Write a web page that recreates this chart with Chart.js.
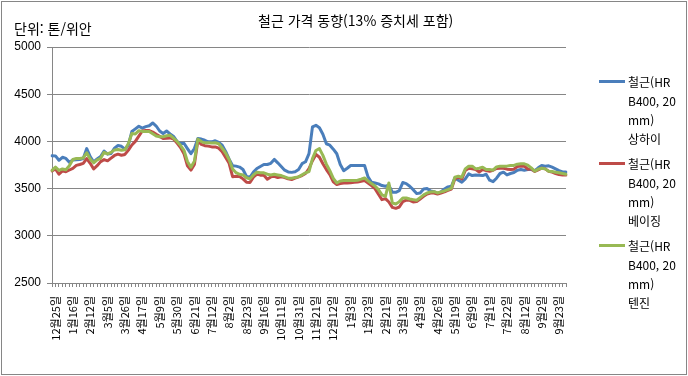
<!DOCTYPE html>
<html lang="ko">
<head>
  <meta charset="UTF-8" />
  <title>철근 가격 동향</title>
  <script src="https://cdn.jsdelivr.net/npm/chart.js"></script>
  <style>
    html, body {
      margin: 0;
      padding: 0;
      background: #fff;
    }

    body {
      width: 688px;
      height: 376px;
      overflow: hidden;
      font-family: 'Noto Sans CJK KR', sans-serif;
      color: #000;
    }

    #wrap {
      position: relative;
      width: 688px;
      height: 376px;
    }

    #frame {
      position: absolute;
      left: 1px;
      top: 1px;
      width: 686px;
      height: 374px;
      box-sizing: border-box;
      border: 1px solid #868686;
    }

    canvas {
      position: absolute;
      left: 0;
      top: 0;
    }

    .title {
      position: absolute;
      left: 258px;
      top: 10px;
      font-size: 14px;
      white-space: nowrap;
    }

    .unit {
      position: absolute;
      left: 14px;
      top: 18px;
      font-size: 14px;
      white-space: nowrap;
    }

    .legend-item {
      position: absolute;
      left: 599px;
      font-size: 12px;
      line-height: 19px;
    }

    .legend-item .swatch {
      position: absolute;
      left: 0;
      top: 8px;
      width: 26px;
      height: 3px;
    }

    .legend-item .text {
      margin-left: 29px;
      white-space: pre-line;
    }
  </style>
</head>
<body>
  <div id="wrap">
    <div id="frame"></div>
    <canvas id="chart" width="688" height="376"></canvas>
    <div class="title">철근 가격 동향(13% 증치세 포함)</div>
    <div class="unit">단위: 톤/위안</div>
    <div id="legend"></div>
  </div>

  <script>
    // x축 날짜 (5개 점마다 하나씩 표시)
    const dates = [
      '12월25일', '1월16일', '2월12일', '3월5일', '3월26일', '4월17일', '5월9일', '5월30일',
      '6월21일', '7월12일', '8월2일', '8월23일', '9월16일', '10월11일', '10월31일', '11월21일',
      '12월12일', '1월3일', '1월23일', '2월21일', '3월13일', '4월3일', '4월26일', '5월19일',
      '6월9일', '7월1일', '7월22일', '8월12일', '9월2일', '9월23일'
    ];

    const yTicks = [2500, 3000, 3500, 4000, 4500, 5000];

    // 상하이
    const shanghai = [
      3848, 3846, 3800, 3832, 3820, 3778, 3803, 3805, 3808, 3818,
      3924, 3838, 3782, 3814, 3840, 3898, 3865, 3872, 3928, 3957,
      3948, 3918, 3960, 4105, 4133, 4160, 4140, 4156, 4166, 4195,
      4163, 4110, 4083, 4110, 4080, 4052, 4000, 3977, 3980, 3924,
      3870, 3924, 4030, 4025, 4012, 3996, 3995, 4007, 3989, 3959,
      3894, 3812, 3742, 3738, 3728, 3702, 3628, 3620, 3675, 3713,
      3734, 3755, 3755, 3768, 3809, 3773, 3734, 3695, 3677, 3672,
      3679, 3702, 3764, 3784, 3870, 4154, 4170, 4145, 4075, 3975,
      3960, 3918, 3869, 3755, 3690, 3716, 3745, 3745, 3745, 3745,
      3745, 3624, 3567, 3560, 3550, 3532, 3525, 3535, 3461, 3461,
      3479, 3564, 3553, 3525, 3489, 3447, 3454, 3496, 3500, 3475,
      3468, 3450, 3465, 3496, 3518, 3525, 3613, 3589, 3567, 3603,
      3656, 3638, 3645, 3642, 3638, 3652, 3589, 3574, 3610, 3660,
      3674, 3645, 3660, 3670, 3695, 3702, 3695, 3702, 3702, 3691,
      3720, 3745, 3738, 3741, 3727, 3709, 3691, 3677, 3677
    ];

    // 베이징
    const beijing = [
      3688, 3708, 3652, 3688, 3679, 3697, 3715, 3746, 3755, 3768,
      3818, 3768, 3708, 3743, 3786, 3807, 3794, 3823, 3851, 3865,
      3853, 3862, 3908, 3962, 4000, 4056, 4110, 4115, 4115, 4099,
      4075, 4053, 4030, 4033, 4037, 4026, 3982, 3936, 3870, 3741,
      3696, 3755, 4008, 3968, 3955, 3950, 3942, 3942, 3928, 3890,
      3830, 3768, 3626, 3631, 3628, 3603, 3567, 3565, 3622, 3654,
      3642, 3642, 3600, 3624, 3631, 3617, 3624, 3617, 3603, 3596,
      3610, 3624, 3638, 3660, 3713, 3795, 3862, 3832, 3764, 3702,
      3649, 3572, 3543, 3553, 3560, 3560, 3562, 3567, 3570, 3578,
      3585, 3560, 3532, 3500, 3440, 3383, 3394, 3358, 3301, 3291,
      3305, 3362, 3379, 3376, 3358, 3362, 3390, 3418, 3443, 3454,
      3454, 3443, 3454, 3465, 3482, 3496, 3603, 3621, 3603, 3692,
      3716, 3709, 3702, 3677, 3702, 3692, 3684, 3695, 3713, 3716,
      3716, 3706, 3702, 3706, 3734, 3738, 3738, 3706, 3709, 3681,
      3699, 3716, 3709, 3684, 3674, 3660, 3649, 3645, 3645
    ];

    // 텐진
    const tianjin = [
      3693, 3727, 3693, 3708, 3699, 3742, 3809, 3819, 3818, 3825,
      3879, 3812, 3773, 3805, 3821, 3884, 3867, 3884, 3910, 3915,
      3906, 3912, 3977, 4083, 4078, 4114, 4106, 4104, 4104, 4080,
      4057, 4050, 4050, 4060, 4065, 4034, 4000, 3959, 3906, 3787,
      3726, 3791, 4024, 3998, 3985, 3985, 3982, 3985, 3975, 3929,
      3876, 3808, 3708, 3668, 3652, 3645, 3615, 3603, 3645, 3674,
      3667, 3667, 3652, 3645, 3652, 3645, 3638, 3624, 3610, 3610,
      3617, 3624, 3645, 3667, 3681, 3818, 3904, 3924, 3852, 3759,
      3690, 3608, 3560, 3580, 3585, 3585, 3585, 3585, 3589, 3600,
      3612, 3582, 3553, 3528, 3489, 3433, 3418, 3560, 3348, 3337,
      3362, 3401, 3401, 3390, 3383, 3376, 3404, 3433, 3454, 3465,
      3468, 3454, 3465, 3475, 3489, 3504, 3621, 3631, 3621, 3709,
      3738, 3738, 3709, 3716, 3727, 3702, 3702, 3695, 3730, 3738,
      3738, 3738, 3745, 3745, 3759, 3762, 3762, 3748, 3720, 3684,
      3706, 3716, 3709, 3684, 3681, 3674, 3667, 3660, 3652
    ];

    const seriesNames = [
      '철근(HR\nB400, 20\nmm)\n상하이',
      '철근(HR\nB400, 20\nmm)\n베이징',
      '철근(HR\nB400, 20\nmm)\n텐진'
    ];
    const seriesColors = ['#4A7EBB', '#BE4B48', '#98B954'];

    const labels = shanghai.map((v, i) => (i % 5 === 1 ? dates[(i - 1) / 5] : ''));

    const seriesData = [shanghai, beijing, tianjin];
    const datasets = seriesData.map((d, k) => ({
      label: seriesNames[k].replace(/\n/g, ' '),
      data: d,
      borderColor: seriesColors[k],
      backgroundColor: seriesColors[k],
      borderWidth: 3,
      pointRadius: 0,
      tension: 0,
      borderJoinStyle: 'round',
      borderCapStyle: 'round',
      order: 2 - k // 텐진이 맨 위
    }));

    // 범례 (오른쪽, 여러 줄)
    const legend = document.getElementById('legend');
    seriesNames.forEach((name, k) => {
      const item = document.createElement('div');
      item.className = 'legend-item';
      item.style.top = (72 + k * 82) + 'px';
      item.innerHTML = '<div class="swatch" style="background:' + seriesColors[k] + '"></div>' +
        '<div class="text"></div>';
      item.querySelector('.text').textContent = name;
      legend.appendChild(item);
    });

    const ctx = document.getElementById('chart').getContext('2d');
    new Chart(ctx, {
      type: 'line',
      data: { labels: labels, datasets: datasets },
      options: {
        responsive: false,
        animation: false,
        layout: { padding: { left: 0, top: 47, right: 122, bottom: 0 } },
        plugins: {
          legend: { display: false },
          tooltip: { enabled: false }
        },
        scales: {
          x: {
            grid: { drawOnChartArea: false, drawTicks: true, tickLength: 4, color: '#868686' },
            border: { color: '#868686' },
            ticks: {
              autoSkip: false,
              minRotation: 90,
              maxRotation: 90,
              padding: 9,
              color: '#000',
              font: { family: "'Noto Sans CJK KR'", size: 11 }
            },
            afterFit: s => { s.height = 93; }
          },
          y: {
            min: yTicks[0],
            max: yTicks[yTicks.length - 1],
            afterBuildTicks: s => { s.ticks = yTicks.map(v => ({ value: v })); },
            grid: { color: '#868686', tickLength: 5 },
            border: { color: '#868686' },
            ticks: {
              padding: 6,
              color: '#000',
              font: { family: "'Liberation Sans'", size: 12 },
              callback: v => String(v) // 천 단위 쉼표 없이
            },
            afterFit: s => { s.width = 52; }
          }
        }
      }
    });
  </script>
</body>
</html>
